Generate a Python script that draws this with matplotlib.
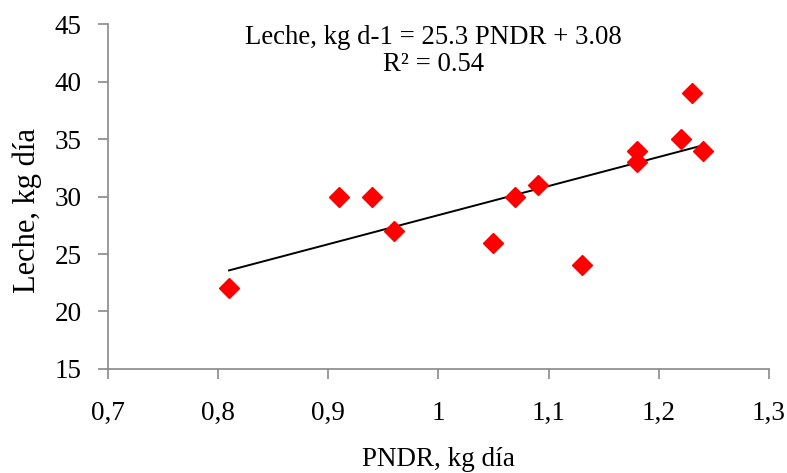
import numpy as np
import matplotlib.pyplot as plt

plt.rcParams['font.family'] = ['Liberation Serif', 'DejaVu Serif']

pndr = [0.81, 0.91, 0.94, 0.96, 1.05, 1.07, 1.09, 1.13, 1.18, 1.18, 1.22, 1.23, 1.24]
leche = [22, 30, 30, 27, 26, 30, 31, 24, 34, 33, 35, 39, 34]
slope = 25.3
intercept = 3.08
r2 = 0.54

fig = plt.figure(figsize=(7.87, 4.73), dpi=100)
ax = fig.add_axes([0.137, 0.220, 0.840, 0.729])

ax.plot(pndr, leche, linestyle="None", marker="D", markersize=10,
        color="#ff0000", zorder=3)
xfit = np.array([min(pndr), max(pndr)])
ax.plot(xfit, slope * xfit + intercept, color="black", linewidth=1.4, zorder=2)

ax.set_xlim(0.7, 1.3)
ax.set_ylim(15, 45)
ax.set_xticks([0.7, 0.8, 0.9, 1.0, 1.1, 1.2, 1.3])
ax.set_xticklabels(["0,7", "0,8", "0,9", "1", "1,1", "1,2", "1,3"])
ax.set_yticks([15, 20, 25, 30, 35, 40, 45])

for s in ["top", "right"]:
    ax.spines[s].set_visible(False)
for s in ["left", "bottom"]:
    ax.spines[s].set_color("#898989")
    ax.spines[s].set_linewidth(1.2)
ax.tick_params(axis="both", direction="out", length=7, width=1.2,
               color="#898989", labelsize=19.5)
ax.tick_params(axis="x", pad=16)
ax.tick_params(axis="y", pad=12)

ax.set_xlabel("PNDR, kg día", fontsize=19.5, labelpad=15)
ax.set_ylabel("Leche, kg día", fontsize=22, labelpad=9)
ax.yaxis.label.set_y(0.46)

ax.text(0.492, 0.96, "Leche, kg d-1 = " + str(slope) + " PNDR + " + str(intercept),
        transform=ax.transAxes, ha="center", va="center", fontsize=19.3)
ax.text(0.492, 0.884, "R² = " + str(r2), transform=ax.transAxes,
        ha="center", va="center", fontsize=19.3)

fig.savefig("out.png", dpi=100)
